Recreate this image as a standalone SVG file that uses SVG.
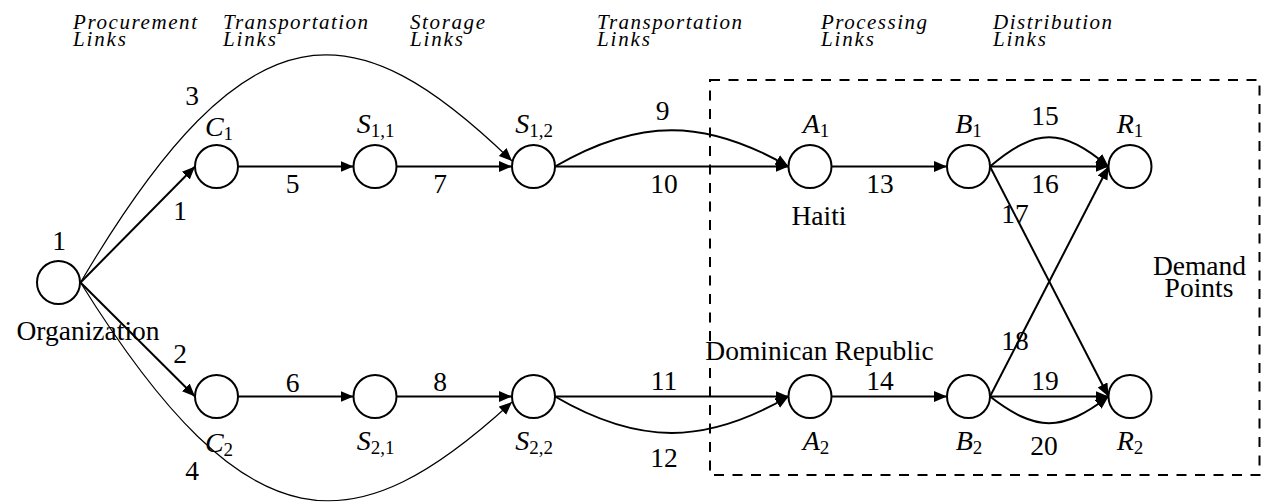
<svg xmlns="http://www.w3.org/2000/svg" width="1262" height="502" viewBox="0 0 1262 502">
<defs>
<marker id="arr" markerUnits="userSpaceOnUse" markerWidth="14" markerHeight="12" refX="13" refY="5.5" orient="auto">
<path d="M0,0 L13,5.5 L0,11 z" fill="#000"/>
</marker>
</defs>
<rect width="1262" height="502" fill="#fff"/>

<g id="headers">
<text font-family="Liberation Serif" font-size="21" font-style="italic" style="font-family:'Liberation Serif','Times New Roman',serif !important;font-style:italic;font-size:21px"><tspan x="73" y="29" textLength="124" lengthAdjust="spacing">Procurement</tspan><tspan x="73" dy="16.5" textLength="53" lengthAdjust="spacing">Links</tspan></text>
<text font-family="Liberation Serif" font-size="21" font-style="italic" style="font-family:'Liberation Serif','Times New Roman',serif !important;font-style:italic;font-size:21px"><tspan x="223" y="29" textLength="145" lengthAdjust="spacing">Transportation</tspan><tspan x="223" dy="16.5" textLength="53" lengthAdjust="spacing">Links</tspan></text>
<text font-family="Liberation Serif" font-size="21" font-style="italic" style="font-family:'Liberation Serif','Times New Roman',serif !important;font-style:italic;font-size:21px"><tspan x="410" y="29" textLength="75" lengthAdjust="spacing">Storage</tspan><tspan x="410" dy="16.5" textLength="53" lengthAdjust="spacing">Links</tspan></text>
<text font-family="Liberation Serif" font-size="21" font-style="italic" style="font-family:'Liberation Serif','Times New Roman',serif !important;font-style:italic;font-size:21px"><tspan x="597" y="29" textLength="145" lengthAdjust="spacing">Transportation</tspan><tspan x="597" dy="16.5" textLength="53" lengthAdjust="spacing">Links</tspan></text>
<text font-family="Liberation Serif" font-size="21" font-style="italic" style="font-family:'Liberation Serif','Times New Roman',serif !important;font-style:italic;font-size:21px"><tspan x="821" y="29" textLength="106" lengthAdjust="spacing">Processing</tspan><tspan x="821" dy="16.5" textLength="53" lengthAdjust="spacing">Links</tspan></text>
<text font-family="Liberation Serif" font-size="21" font-style="italic" style="font-family:'Liberation Serif','Times New Roman',serif !important;font-style:italic;font-size:21px"><tspan x="993" y="29" textLength="119" lengthAdjust="spacing">Distribution</tspan><tspan x="993" dy="16.5" textLength="53" lengthAdjust="spacing">Links</tspan></text>
</g>

<g id="region">
<rect x="710" y="80" width="549.5" height="395" fill="none" stroke="#000" stroke-width="2" stroke-dasharray="10 8.5"/>
<text x="819" y="225" font-family="Liberation Serif" font-size="27.5" text-anchor="middle" style="font-family:'Liberation Serif','Times New Roman',serif !important">Haiti</text>
<text x="819.5" y="360" font-family="Liberation Serif" font-size="27.5" text-anchor="middle" style="font-family:'Liberation Serif','Times New Roman',serif !important">Dominican Republic</text>
<text font-family="Liberation Serif" font-size="27.5" text-anchor="middle" style="font-family:'Liberation Serif','Times New Roman',serif !important"><tspan x="1199.5" y="275">Demand</tspan><tspan x="1199" dy="22">Points</tspan></text>
</g>

<g id="connectors">
<g fill="none" stroke="#000" stroke-width="2" marker-end="url(#arr)">
<path id="e1" d="M80.5,282.5 L195,166.5"/>
<path id="e2" d="M80.5,282.5 L195,396.5"/>
<path id="e3" stroke-width="1.2" d="M80.5,282.5 C250,-5 356,10 512,161"/>
<path id="e4" stroke-width="1.2" d="M80.5,282.5 C250,555 356,545 512,402"/>
<path id="e5" d="M238,166.5 L353.5,166.5"/>
<path id="e6" d="M238,396.5 L353.5,396.5"/>
<path id="e7" d="M396.5,166.5 L512,166.5"/>
<path id="e8" d="M396.5,396.5 L512,396.5"/>
<path id="e9" d="M555,166.5 C638,118 705,118 788.5,166.5"/>
<path id="e10" d="M555,166.5 L788.5,166.5"/>
<path id="e11" d="M555,396.5 L788.5,396.5"/>
<path id="e12" d="M555,396.5 C638,445 705,445 788.5,396.5"/>
<path id="e13" d="M831.5,166.5 L947,166.5"/>
<path id="e14" d="M831.5,396.5 L947,396.5"/>
<path id="e15" d="M990,166.5 C1036,127.5 1062,127.5 1108.5,166.5"/>
<path id="e16" d="M990,166.5 L1108.5,166.5"/>
<path id="e17" d="M990,166.5 L1108.5,396.5"/>
<path id="e18" d="M990,396.5 L1108.5,166.5"/>
<path id="e19" d="M990,396.5 L1108.5,396.5"/>
<path id="e20" d="M990,396.5 C1036,432 1062,432 1108.5,396.5"/>
</g>
<text x="180" y="220" font-family="Liberation Serif" font-size="27.5" text-anchor="middle" style="font-family:'Liberation Serif','Times New Roman',serif !important">1</text>
<text x="180" y="363" font-family="Liberation Serif" font-size="27.5" text-anchor="middle" style="font-family:'Liberation Serif','Times New Roman',serif !important">2</text>
<text x="192" y="105" font-family="Liberation Serif" font-size="27.5" text-anchor="middle" style="font-family:'Liberation Serif','Times New Roman',serif !important">3</text>
<text x="192" y="480" font-family="Liberation Serif" font-size="27.5" text-anchor="middle" style="font-family:'Liberation Serif','Times New Roman',serif !important">4</text>
<text x="292.5" y="193" font-family="Liberation Serif" font-size="27.5" text-anchor="middle" style="font-family:'Liberation Serif','Times New Roman',serif !important">5</text>
<text x="292.5" y="392" font-family="Liberation Serif" font-size="27.5" text-anchor="middle" style="font-family:'Liberation Serif','Times New Roman',serif !important">6</text>
<text x="440" y="193" font-family="Liberation Serif" font-size="27.5" text-anchor="middle" style="font-family:'Liberation Serif','Times New Roman',serif !important">7</text>
<text x="440" y="391" font-family="Liberation Serif" font-size="27.5" text-anchor="middle" style="font-family:'Liberation Serif','Times New Roman',serif !important">8</text>
<text x="662.5" y="120" font-family="Liberation Serif" font-size="27.5" text-anchor="middle" style="font-family:'Liberation Serif','Times New Roman',serif !important">9</text>
<text x="664" y="193" font-family="Liberation Serif" font-size="27.5" text-anchor="middle" style="font-family:'Liberation Serif','Times New Roman',serif !important">10</text>
<text x="664" y="390" font-family="Liberation Serif" font-size="27.5" text-anchor="middle" style="font-family:'Liberation Serif','Times New Roman',serif !important">11</text>
<text x="664" y="467" font-family="Liberation Serif" font-size="27.5" text-anchor="middle" style="font-family:'Liberation Serif','Times New Roman',serif !important">12</text>
<text x="880" y="193" font-family="Liberation Serif" font-size="27.5" text-anchor="middle" style="font-family:'Liberation Serif','Times New Roman',serif !important">13</text>
<text x="880" y="390" font-family="Liberation Serif" font-size="27.5" text-anchor="middle" style="font-family:'Liberation Serif','Times New Roman',serif !important">14</text>
<text x="1045" y="125" font-family="Liberation Serif" font-size="27.5" text-anchor="middle" style="font-family:'Liberation Serif','Times New Roman',serif !important">15</text>
<text x="1045" y="193" font-family="Liberation Serif" font-size="27.5" text-anchor="middle" style="font-family:'Liberation Serif','Times New Roman',serif !important">16</text>
<text x="1015" y="223" font-family="Liberation Serif" font-size="27.5" text-anchor="middle" style="font-family:'Liberation Serif','Times New Roman',serif !important">17</text>
<text x="1015" y="350" font-family="Liberation Serif" font-size="27.5" text-anchor="middle" style="font-family:'Liberation Serif','Times New Roman',serif !important">18</text>
<text x="1045" y="390" font-family="Liberation Serif" font-size="27.5" text-anchor="middle" style="font-family:'Liberation Serif','Times New Roman',serif !important">19</text>
<text x="1044" y="455" font-family="Liberation Serif" font-size="27.5" text-anchor="middle" style="font-family:'Liberation Serif','Times New Roman',serif !important">20</text>
</g>

<g id="node-org">
<circle cx="58.5" cy="282.5" r="21.5" fill="#fff" stroke="#000" stroke-width="2"/>
<text x="59" y="250" font-family="Liberation Serif" font-size="27.5" text-anchor="middle" style="font-family:'Liberation Serif','Times New Roman',serif !important">1</text>
<text x="88" y="340" font-family="Liberation Serif" font-size="27.5" text-anchor="middle" style="font-family:'Liberation Serif','Times New Roman',serif !important">Organization</text>
</g>
<g id="node-C1">
<circle cx="216.5" cy="166.5" r="21.5" fill="#fff" stroke="#000" stroke-width="2"/>
<text x="219" y="136" font-family="Liberation Serif" font-size="28" font-style="italic" text-anchor="middle" style="font-family:'Liberation Serif','Times New Roman',serif !important">C<tspan font-size="19" font-style="normal" dy="4">1</tspan></text>
</g>
<g id="node-S11">
<circle cx="375" cy="166.5" r="21.5" fill="#fff" stroke="#000" stroke-width="2"/>
<text x="375.5" y="133" font-family="Liberation Serif" font-size="28" font-style="italic" text-anchor="middle" style="font-family:'Liberation Serif','Times New Roman',serif !important">S<tspan font-size="19" font-style="normal" dy="4">1,1</tspan></text>
</g>
<g id="node-S12">
<circle cx="533.5" cy="166.5" r="21.5" fill="#fff" stroke="#000" stroke-width="2"/>
<text x="534" y="133" font-family="Liberation Serif" font-size="28" font-style="italic" text-anchor="middle" style="font-family:'Liberation Serif','Times New Roman',serif !important">S<tspan font-size="19" font-style="normal" dy="4">1,2</tspan></text>
</g>
<g id="node-A1">
<circle cx="810" cy="166.5" r="21.5" fill="#fff" stroke="#000" stroke-width="2"/>
<text x="816" y="133" font-family="Liberation Serif" font-size="28" font-style="italic" text-anchor="middle" style="font-family:'Liberation Serif','Times New Roman',serif !important">A<tspan font-size="19" font-style="normal" dy="4">1</tspan></text>
</g>
<g id="node-B1">
<circle cx="968.5" cy="166.5" r="21.5" fill="#fff" stroke="#000" stroke-width="2"/>
<text x="968.5" y="133" font-family="Liberation Serif" font-size="28" font-style="italic" text-anchor="middle" style="font-family:'Liberation Serif','Times New Roman',serif !important">B<tspan font-size="19" font-style="normal" dy="4">1</tspan></text>
</g>
<g id="node-R1">
<circle cx="1130" cy="166.5" r="21.5" fill="#fff" stroke="#000" stroke-width="2"/>
<text x="1130" y="133" font-family="Liberation Serif" font-size="28" font-style="italic" text-anchor="middle" style="font-family:'Liberation Serif','Times New Roman',serif !important">R<tspan font-size="19" font-style="normal" dy="4">1</tspan></text>
</g>
<g id="node-C2">
<circle cx="216.5" cy="396.5" r="21.5" fill="#fff" stroke="#000" stroke-width="2"/>
<text x="219" y="452" font-family="Liberation Serif" font-size="28" font-style="italic" text-anchor="middle" style="font-family:'Liberation Serif','Times New Roman',serif !important">C<tspan font-size="19" font-style="normal" dy="4">2</tspan></text>
</g>
<g id="node-S21">
<circle cx="375" cy="396.5" r="21.5" fill="#fff" stroke="#000" stroke-width="2"/>
<text x="375.5" y="450" font-family="Liberation Serif" font-size="28" font-style="italic" text-anchor="middle" style="font-family:'Liberation Serif','Times New Roman',serif !important">S<tspan font-size="19" font-style="normal" dy="4">2,1</tspan></text>
</g>
<g id="node-S22">
<circle cx="533.5" cy="396.5" r="21.5" fill="#fff" stroke="#000" stroke-width="2"/>
<text x="534" y="450" font-family="Liberation Serif" font-size="28" font-style="italic" text-anchor="middle" style="font-family:'Liberation Serif','Times New Roman',serif !important">S<tspan font-size="19" font-style="normal" dy="4">2,2</tspan></text>
</g>
<g id="node-A2">
<circle cx="810" cy="396.5" r="21.5" fill="#fff" stroke="#000" stroke-width="2"/>
<text x="816" y="450" font-family="Liberation Serif" font-size="28" font-style="italic" text-anchor="middle" style="font-family:'Liberation Serif','Times New Roman',serif !important">A<tspan font-size="19" font-style="normal" dy="4">2</tspan></text>
</g>
<g id="node-B2">
<circle cx="968.5" cy="396.5" r="21.5" fill="#fff" stroke="#000" stroke-width="2"/>
<text x="969" y="450" font-family="Liberation Serif" font-size="28" font-style="italic" text-anchor="middle" style="font-family:'Liberation Serif','Times New Roman',serif !important">B<tspan font-size="19" font-style="normal" dy="4">2</tspan></text>
</g>
<g id="node-R2">
<circle cx="1130" cy="396.5" r="21.5" fill="#fff" stroke="#000" stroke-width="2"/>
<text x="1130" y="450" font-family="Liberation Serif" font-size="28" font-style="italic" text-anchor="middle" style="font-family:'Liberation Serif','Times New Roman',serif !important">R<tspan font-size="19" font-style="normal" dy="4">2</tspan></text>
</g>
</svg>
